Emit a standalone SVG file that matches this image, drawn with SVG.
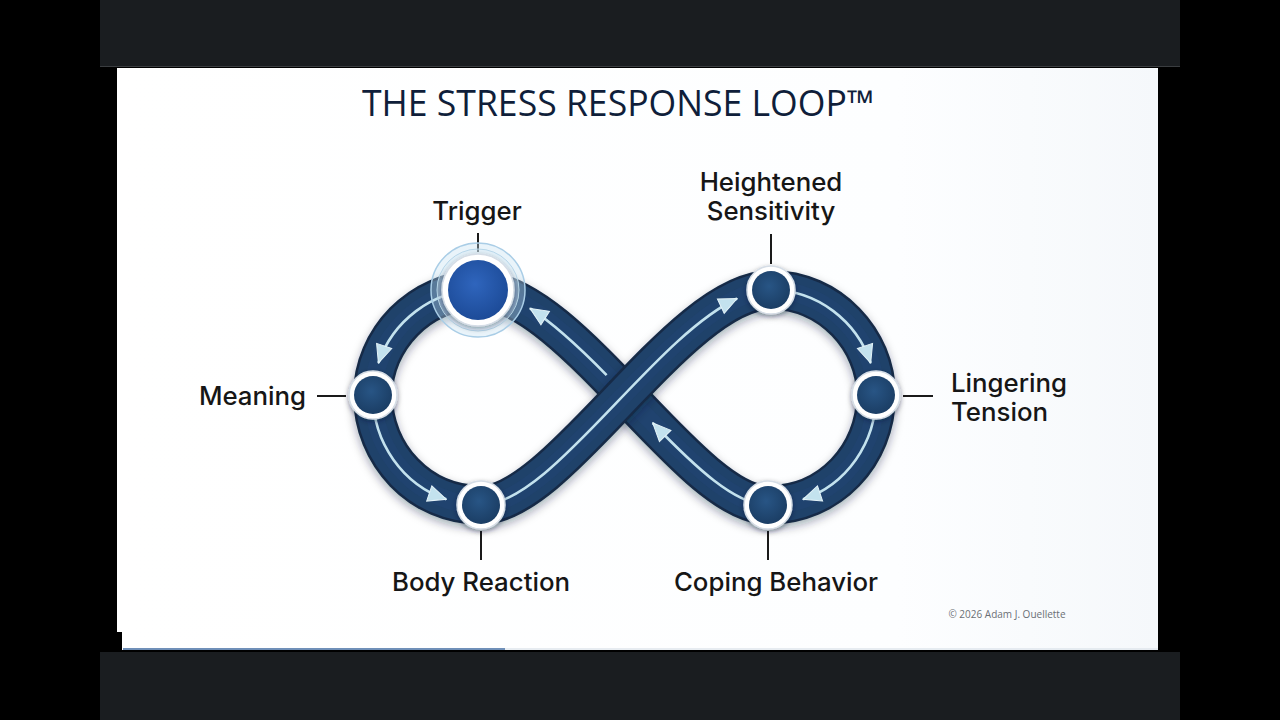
<svg xmlns="http://www.w3.org/2000/svg" width="1280" height="720" viewBox="0 0 1280 720">
<defs>
<style>
.lbl{font-family:Inter,"Noto Sans","Liberation Sans",sans-serif;font-weight:500;font-size:25.8px;fill:#161616}
.lead{stroke:#1a1a1a;stroke-width:2}
.edge{fill:none;stroke:#142b46;stroke-width:40}
.band{fill:none;stroke:#1f426a;stroke-width:35}
.sheen{fill:none;stroke:#23477a;stroke-width:18;opacity:.3}
.flow{fill:none;stroke:#c3e2ee;stroke-width:2.6;marker-end:url(#arr)}
.ring{fill:#ffffff;stroke:#d5dde6;stroke-width:1.5}
.core{fill:url(#coreG)}
</style>
<radialGradient id="coreG" cx="45%" cy="40%" r="65%">
<stop offset="0" stop-color="#285585"/>
<stop offset="1" stop-color="#1a3c62"/>
</radialGradient>
<radialGradient id="trigG" cx="45%" cy="40%" r="65%">
<stop offset="0" stop-color="#2f65bd"/>
<stop offset="1" stop-color="#1b4995"/>
</radialGradient>
<linearGradient id="slideG" x1="0" y1="0" x2="1" y2="0">
<stop offset="0" stop-color="#ffffff"/>
<stop offset="0.75" stop-color="#fdfeff"/>
<stop offset="1" stop-color="#f5f8fb"/>
</linearGradient>
<filter id="sh" x="-20%" y="-20%" width="140%" height="140%">
<feDropShadow dx="0" dy="4" stdDeviation="5" flood-color="#0c1e33" flood-opacity="0.35"/>
</filter>
<filter id="shs" x="-30%" y="-30%" width="160%" height="160%">
<feDropShadow dx="0" dy="2" stdDeviation="2.5" flood-color="#0c1e33" flood-opacity="0.4"/>
</filter>
<marker id="arr" markerUnits="userSpaceOnUse" markerWidth="20" markerHeight="20" viewBox="0 0 20 20" refX="19" refY="10" orient="auto">
<path d="M1,2 L19,10 L1,18 Z" fill="#c3e2ee" stroke="#e4f3f8" stroke-width="1"/>
</marker>
</defs>

<!-- frame -->
<rect x="0" y="0" width="1280" height="720" fill="#000000"/>
<rect x="100" y="0" width="1080" height="66" fill="#1a1d20"/>
<rect x="100" y="652" width="1080" height="68" fill="#1a1d20"/>
<line x1="100" y1="66.5" x2="1180" y2="66.5" stroke="#3a3d40" stroke-width="1"/>
<rect x="117" y="68" width="1041" height="582" fill="url(#slideG)"/>
<rect x="100" y="632" width="22" height="18" fill="#000000"/>
<line x1="123" y1="649" x2="505" y2="649" stroke="#6f8fb8" stroke-width="2"/>
<line x1="505" y1="649" x2="1158" y2="649" stroke="#dfe6ec" stroke-width="1.5"/>

<!-- title -->
<text x="618" y="116" text-anchor="middle" font-family="'Open Sans','Noto Sans','Liberation Sans',sans-serif" font-size="35.6" fill="#0f1e3a">THE STRESS RESPONSE LOOP™</text>
<text x="1007" y="618" text-anchor="middle" font-family="'Open Sans','Noto Sans','Liberation Sans',sans-serif" font-size="10" fill="#6a6f75">© 2026 Adam J. Ouellette</text>

<!-- connectors: infinity track and flow arrows -->
<g id="connectors">
<g filter="url(#sh)">
<path class="edge" d="M478,290 C420,290 373,340 373,395 C373,455 420,505 481,505 M771,290 C830,290 876,340 876,395 C876,455 830,505 768,505 C690,505 570,290 478,290"/>
</g>
<path class="band" d="M478,290 C420,290 373,340 373,395 C373,455 420,505 481,505 M771,290 C830,290 876,340 876,395 C876,455 830,505 768,505 C690,505 570,290 478,290"/>
<path class="sheen" d="M478,290 C420,290 373,340 373,395 C373,455 420,505 481,505 M771,290 C830,290 876,340 876,395 C876,455 830,505 768,505 C690,505 570,290 478,290"/>
<g filter="url(#sh)">
<path class="edge" d="M481,505 C560,505 680,290 771,290"/>
</g>
<path class="band" d="M481,505 C560,505 680,290 771,290"/>
<path class="sheen" d="M481,505 C560,505 680,290 771,290"/>

<path class="flow" d="M478,290 C431.6,290 392.3,322 378.4,363"/>
<path class="flow" d="M373,395 C373,443 403,484.6 446.3,499.3"/>
<path class="flow" d="M481,505 C550.5,505 651.8,338.5 737.1,298.5"/>
<path class="flow" d="M771,290 C818.2,290 857,322 870.7,363"/>
<path class="flow" d="M876,395 C876,443 846.5,484.6 803,499.3"/>
<path class="flow" d="M768,505 C735.2,505 695.1,467 652.7,423"/>
<path class="flow" d="M606.6,375.1 C580.8,348.8 555,324.3 530,308.4"/>
</g>

<!-- nodes -->
<g id="node-trigger">
<line class="lead" x1="478" y1="233" x2="478" y2="252"/>
<circle cx="478" cy="290" r="47" fill="#c4dff0" fill-opacity="0.35" stroke="#a9cde6" stroke-width="1.5"/>
<circle cx="478" cy="290" r="41" fill="#d8ebf6" fill-opacity="0.35" stroke="#b8d7ea" stroke-width="1"/>
<circle class="ring" cx="478" cy="290" r="36" filter="url(#shs)"/>
<circle cx="478" cy="290" r="30" fill="url(#trigG)"/>
<text class="lbl" x="477" y="220" text-anchor="middle">Trigger</text>
</g>

<g id="node-heightened">
<line class="lead" x1="771" y1="234" x2="771" y2="264"/>
<circle class="ring" cx="771" cy="290" r="24" filter="url(#shs)"/>
<circle class="core" cx="771" cy="290" r="19"/>
<text class="lbl" x="771" y="191" text-anchor="middle">Heightened</text>
<text class="lbl" x="771" y="220" text-anchor="middle">Sensitivity</text>
</g>

<g id="node-lingering">
<line class="lead" x1="903" y1="396" x2="933" y2="396"/>
<circle class="ring" cx="876" cy="395" r="24" filter="url(#shs)"/>
<circle class="core" cx="876" cy="395" r="19"/>
<text class="lbl" x="951" y="392">Lingering</text>
<text class="lbl" x="951" y="421">Tension</text>
</g>

<g id="node-coping">
<line class="lead" x1="768" y1="531" x2="768" y2="560"/>
<circle class="ring" cx="768" cy="505" r="24" filter="url(#shs)"/>
<circle class="core" cx="768" cy="505" r="19"/>
<text class="lbl" x="776" y="591" text-anchor="middle">Coping Behavior</text>
</g>

<g id="node-body">
<line class="lead" x1="481" y1="531" x2="481" y2="560"/>
<circle class="ring" cx="481" cy="505" r="24" filter="url(#shs)"/>
<circle class="core" cx="481" cy="505" r="19"/>
<text class="lbl" x="481" y="591" text-anchor="middle">Body Reaction</text>
</g>

<g id="node-meaning">
<line class="lead" x1="317" y1="396" x2="346" y2="396"/>
<circle class="ring" cx="373" cy="395" r="24" filter="url(#shs)"/>
<circle class="core" cx="373" cy="395" r="19"/>
<text class="lbl" x="306" y="405" text-anchor="end">Meaning</text>
</g>
</svg>
